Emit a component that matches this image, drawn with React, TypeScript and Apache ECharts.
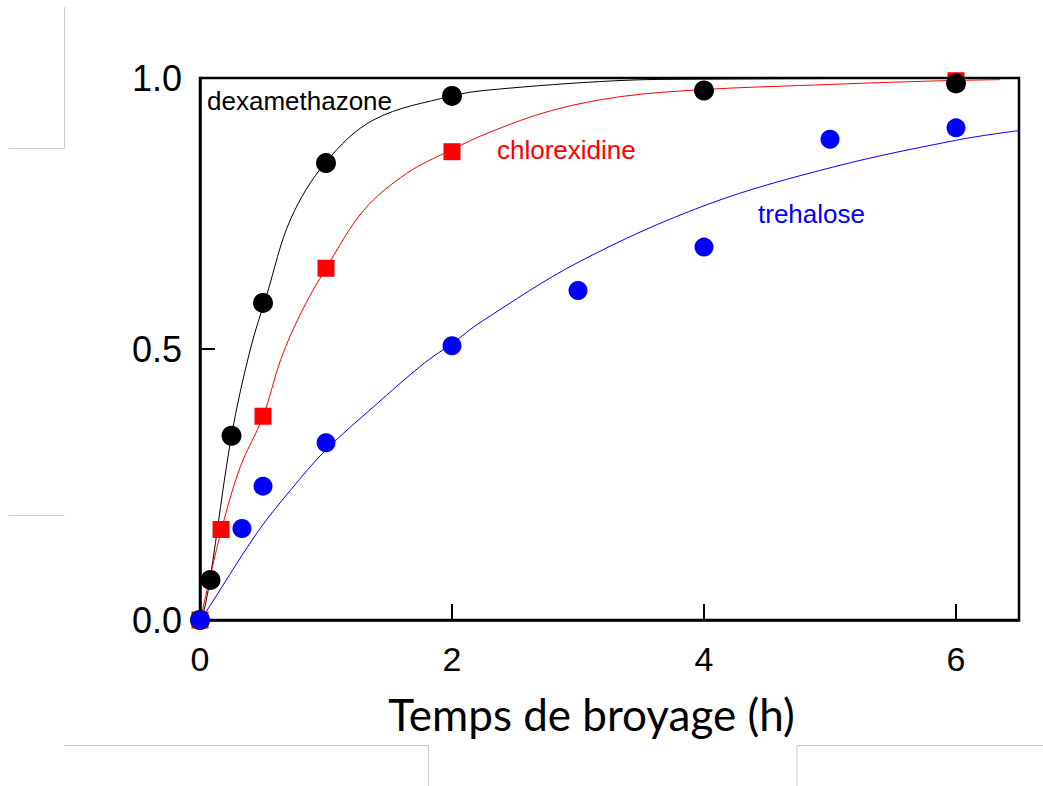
import React, { useEffect, useRef } from "react";
import * as echarts from "echarts";

// Measured points (time in hours, fraction)
const dexaX = [0, 0.083, 0.25, 0.5, 1, 2, 4, 6];
const dexaY = [0, 0.074, 0.34, 0.585, 0.843, 0.967, 0.977, 0.99];
const chlorX = [0, 0.167, 0.5, 1, 2, 6];
const chlorY = [0, 0.167, 0.376, 0.649, 0.864, 0.995];
const trehX = [0, 0.333, 0.5, 1, 2, 3, 4, 5, 6];
const trehY = [0, 0.169, 0.247, 0.327, 0.506, 0.608, 0.688, 0.887, 0.908];

// Fitted curves
const dexaFitX = [0, 0.026, 0.08, 0.25, 0.4, 0.53, 0.72, 1.0, 1.38, 2.0, 2.3, 3.3, 4, 6.5];
const dexaFitY = [0, 0.012, 0.076, 0.34, 0.5, 0.6, 0.74, 0.845, 0.923, 0.967, 0.978, 0.995, 0.998, 1.0];
const chlorFitX = [0, 0.026, 0.17, 0.32, 0.5, 0.64, 0.8, 1.0, 1.3, 1.64, 2.0, 2.3, 2.79, 3.35, 4.02, 4.75, 5.74, 6.35];
const chlorFitY = [0, 0.025, 0.166, 0.283, 0.375, 0.48, 0.566, 0.649, 0.756, 0.824, 0.868, 0.9, 0.94, 0.966, 0.979, 0.986, 0.994, 0.997];
const trehFitX = [0, 0.026, 0.45, 0.72, 1.0, 1.38, 1.78, 2.0, 2.23, 3.01, 4.02, 5.03, 6.02, 6.5];
const trehFitY = [0, 0.007, 0.16, 0.24, 0.314, 0.394, 0.474, 0.51, 0.55, 0.661, 0.766, 0.836, 0.886, 0.903];

const xTicks = [0, 2, 4, 6];
const yTicks = [0, 0.5, 1];
const xTitle = "Temps de broyage (h)";
const seriesNames = ["dexamethazone", "chlorexidine", "trehalose"];

const zip = (xs: number[], ys: number[]) => xs.map((x, i) => [x, ys[i]]);

export default function App() {
  const ref = useRef<HTMLDivElement>(null);
  useEffect(() => {
    if (!ref.current) return;
    const chart = echarts.init(ref.current, undefined, { renderer: "svg" });
    const gray = "#c8c8c8";
    const lineSeries = (name: string, data: number[][], color: string) => ({
      name,
      type: "line",
      data,
      smooth: 0.35,
      showSymbol: false,
      symbol: "none",
      lineStyle: { color, width: 1 },
      z: 2,
    });
    const scatterSeries = (name: string, data: number[][], color: string, symbol: string, size: number, z: number) => ({
      name,
      type: "scatter",
      data,
      symbol,
      symbolSize: size,
      itemStyle: { color, opacity: 1 },
      clip: false,
      z,
    });
    chart.setOption({
      animation: false,
      backgroundColor: "#ffffff",
      grid: {
        left: 200,
        top: 78,
        right: 24,
        bottom: 166,
        show: true,
        borderColor: "#000",
        borderWidth: 2.5,
        backgroundColor: "transparent",
      },
      xAxis: {
        type: "value",
        min: 0,
        max: 6.5,
        interval: 2,
        name: xTitle,
        nameLocation: "middle",
        nameGap: 72,
        nameTextStyle: {
          fontFamily: "Lato",
          fontSize: 44,
          color: "#000",
          padding: [0, 36, 0, 0],
        },
        axisLine: { show: true, lineStyle: { color: "#000", width: 2.5 } },
        axisTick: { show: true, inside: true, length: 16, lineStyle: { color: "#000", width: 2 } },
        axisLabel: {
          showMaxLabel: false,
          margin: 22,
          fontFamily: "Liberation Sans",
          fontSize: 34,
          color: "#000",
          formatter: (v: number) => (xTicks.includes(v) ? String(v) : ""),
        },
        splitLine: { show: false },
      },
      yAxis: {
        type: "value",
        min: 0,
        max: 1,
        interval: 0.5,
        axisLine: { show: true, lineStyle: { color: "#000", width: 2.5 } },
        axisTick: { show: true, inside: true, length: 15, lineStyle: { color: "#000", width: 2 } },
        axisLabel: {
          margin: 18,
          fontFamily: "Liberation Sans",
          fontSize: 36,
          color: "#000",
          formatter: (v: number) => (yTicks.includes(v) ? v.toFixed(1) : ""),
        },
        splitLine: { show: false },
      },
      series: [
        lineSeries(seriesNames[0] + " fit", zip(dexaFitX, dexaFitY), "#000000"),
        lineSeries(seriesNames[1] + " fit", zip(chlorFitX, chlorFitY), "#ff0000"),
        lineSeries(seriesNames[2] + " fit", zip(trehFitX, trehFitY), "#0000ff"),
        scatterSeries(seriesNames[1], zip(chlorX, chlorY), "#ff0000", "rect", 17, 3),
        scatterSeries(seriesNames[0], zip(dexaX, dexaY), "#000000", "circle", 20, 4),
        scatterSeries(seriesNames[2], zip(trehX, trehY), "#0000ff", "circle", 19, 5),
      ],
      graphic: [
        { type: "text", left: 207, top: 88, style: { text: seriesNames[0], fill: "#000", font: "26px 'Liberation Sans'" } },
        { type: "text", left: 497, top: 137, style: { text: seriesNames[1], fill: "#ff0000", font: "26px 'Liberation Sans'" } },
        { type: "text", left: 758, top: 201, style: { text: seriesNames[2], fill: "#0000ff", font: "26px 'Liberation Sans'" } },
        { type: "line", shape: { x1: 64.5, y1: 7, x2: 64.5, y2: 148.5 }, style: { stroke: gray, lineWidth: 1 } },
        { type: "line", shape: { x1: 9, y1: 148.5, x2: 64.5, y2: 148.5 }, style: { stroke: gray, lineWidth: 1 } },
        { type: "line", shape: { x1: 9, y1: 515.5, x2: 64.5, y2: 515.5 }, style: { stroke: gray, lineWidth: 1 } },
        { type: "line", shape: { x1: 64, y1: 745.5, x2: 428.5, y2: 745.5 }, style: { stroke: gray, lineWidth: 1 } },
        { type: "line", shape: { x1: 428.5, y1: 745.5, x2: 428.5, y2: 786 }, style: { stroke: gray, lineWidth: 1 } },
        { type: "line", shape: { x1: 797, y1: 745.5, x2: 1043, y2: 745.5 }, style: { stroke: gray, lineWidth: 1 } },
        { type: "line", shape: { x1: 797, y1: 745.5, x2: 797, y2: 786 }, style: { stroke: gray, lineWidth: 1 } },
      ],
    });
    return () => chart.dispose();
  }, []);
  return (
    <div
      ref={ref}
      style={{ position: "fixed", left: 0, top: 0, width: 1043, height: 786, background: "#fff" }}
    />
  );
}
